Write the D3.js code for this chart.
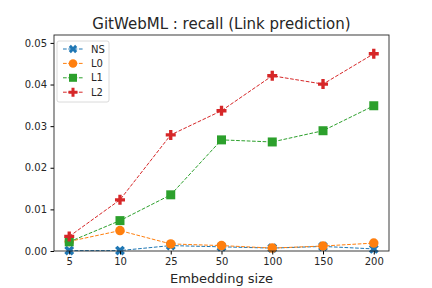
<!DOCTYPE html>
<html>
<head>
	<meta charset="utf-8">
	<title>GitWebML recall</title>
	<script src="https://cdn.jsdelivr.net/npm/d3@7"></script>
	<style>
		body { margin: 0; background: #fff; font-family: "DejaVu Sans", sans-serif; }
		svg text { fill: #262626; }
	</style>
</head>
<body>
	<div id="chart"></div>
	<script>

		// data
		const sizes = ["5", "10", "25", "50", "100", "150", "200"];
		const seriesNames = ["NS", "L0", "L1", "L2"];
		const nsValues = [0.0001, 0.0001, 0.0013, 0.0010, 0.0007, 0.0011, 0.0005];
		const l0Values = [0.0023, 0.0049, 0.0017, 0.0013, 0.0007, 0.0012, 0.0019];
		const l1Values = [0.0022, 0.0073, 0.0135, 0.0267, 0.0262, 0.0289, 0.0349];
		const l2Values = [0.0035, 0.0123, 0.0279, 0.0337, 0.0421, 0.0401, 0.0474];
		const yTicks = [0, 0.01, 0.02, 0.03, 0.04, 0.05];

		const colors = ["#1f77b4", "#ff7f0e", "#2ca02c", "#d62728"];
		const markers = ["x", "circle", "square", "plus"];
		const allValues = [nsValues, l0Values, l1Values, l2Values];

		const width = 432, height = 288;
		const margin = { top: 35, right: 43, bottom: 37, left: 54 };

		const svg = d3.select("#chart").append("svg")
			.attr("width", width)
			.attr("height", height);

		const x = d3.scalePoint(sizes, [margin.left, width - margin.right]).padding(0.3);
		const y = d3.scaleLinear([0, 0.0519], [height - margin.bottom, margin.top]);

		// marker shapes
		function markerPath(kind, s) {
			if (kind === "circle") return d3.symbol(d3.symbolCircle, Math.PI * s * s / 4)();
			if (kind === "square") {
				const h = s / 2;
				return `M${-h},${-h}H${h}V${h}H${-h}Z`;
			}
			// plus (the X is the same shape turned by 45 degrees)
			const a = s / 2, b = s / 6;
			return `M${-b},${-a}H${b}V${-b}H${a}V${b}H${b}V${a}H${-b}V${b}H${-a}V${-b}H${-b}Z`;
		}
		const markerSize = { x: 10.5, circle: 9.5, square: 9, plus: 10 };
		const legendSize = { x: 9, circle: 8.5, square: 8, plus: 9 };

		const line = d3.line().x((d, i) => x(sizes[i])).y(d => y(d));

		allValues.forEach((vals, k) => {
			const g = svg.append("g");
			g.append("path")
				.attr("d", line(vals))
				.attr("fill", "none")
				.attr("stroke", colors[k])
				.attr("stroke-width", 1)
				.attr("stroke-dasharray", "3.7,1.6");
			g.selectAll("path.m")
				.data(vals)
				.join("path")
				.attr("class", "m")
				.attr("d", markerPath(markers[k], markerSize[markers[k]]))
				.attr("transform", (d, i) => `translate(${x(sizes[i])},${y(d)})` + (markers[k] === "x" ? " rotate(45)" : ""))
				.attr("fill", colors[k]);
		});

		// axes
		svg.append("g")
			.attr("transform", `translate(0,${height - margin.bottom})`)
			.call(d3.axisBottom(x).tickSizeOuter(0).tickSize(3.5).tickPadding(3.5))
			.call(g => g.select(".domain").remove())
			.call(g => g.selectAll("text").style("font-size", "10px").style("font-family", "DejaVu Sans"));

		svg.append("g")
			.attr("transform", `translate(${margin.left},0)`)
			.call(d3.axisLeft(y).tickValues(yTicks).tickFormat(d3.format(".2f")).tickSize(3.5).tickPadding(3.5))
			.call(g => g.select(".domain").remove())
			.call(g => g.selectAll("text").style("font-size", "10px").style("font-family", "DejaVu Sans"));

		svg.append("rect")
			.attr("x", margin.left)
			.attr("y", margin.top)
			.attr("width", width - margin.left - margin.right)
			.attr("height", height - margin.top - margin.bottom)
			.attr("fill", "none")
			.attr("stroke", "#262626")
			.attr("stroke-width", 0.9);

		// title and label
		svg.append("text")
			.attr("x", (margin.left + width - margin.right) / 2)
			.attr("y", 29)
			.attr("text-anchor", "middle")
			.style("font-size", "15px")
			.text("GitWebML : recall (Link prediction)");

		svg.append("text")
			.attr("x", (margin.left + width - margin.right) / 2)
			.attr("y", 283)
			.attr("text-anchor", "middle")
			.style("font-size", "13px")
			.text("Embedding size");

		// legend
		const leg = svg.append("g").attr("transform", "translate(57,41)");
		leg.append("rect")
			.attr("width", 52).attr("height", 61).attr("rx", 2)
			.attr("fill", "#fff").attr("fill-opacity", 0.8)
			.attr("stroke", "#d0d0d0").attr("stroke-width", 0.8);
		seriesNames.forEach((name, k) => {
			const yy = 8 + k * 14.4;
			leg.append("line")
				.attr("x1", 6).attr("x2", 26).attr("y1", yy).attr("y2", yy)
				.attr("stroke", colors[k]).attr("stroke-width", 1)
				.attr("stroke-dasharray", "3.7,1.6");
			leg.append("path")
				.attr("d", markerPath(markers[k], legendSize[markers[k]]))
				.attr("transform", `translate(16,${yy})` + (markers[k] === "x" ? " rotate(45)" : ""))
				.attr("fill", colors[k]);
			leg.append("text")
				.attr("x", 34).attr("y", yy + 3.6)
				.style("font-size", "10px")
				.text(name);
		});

	</script>
</body>
</html>
